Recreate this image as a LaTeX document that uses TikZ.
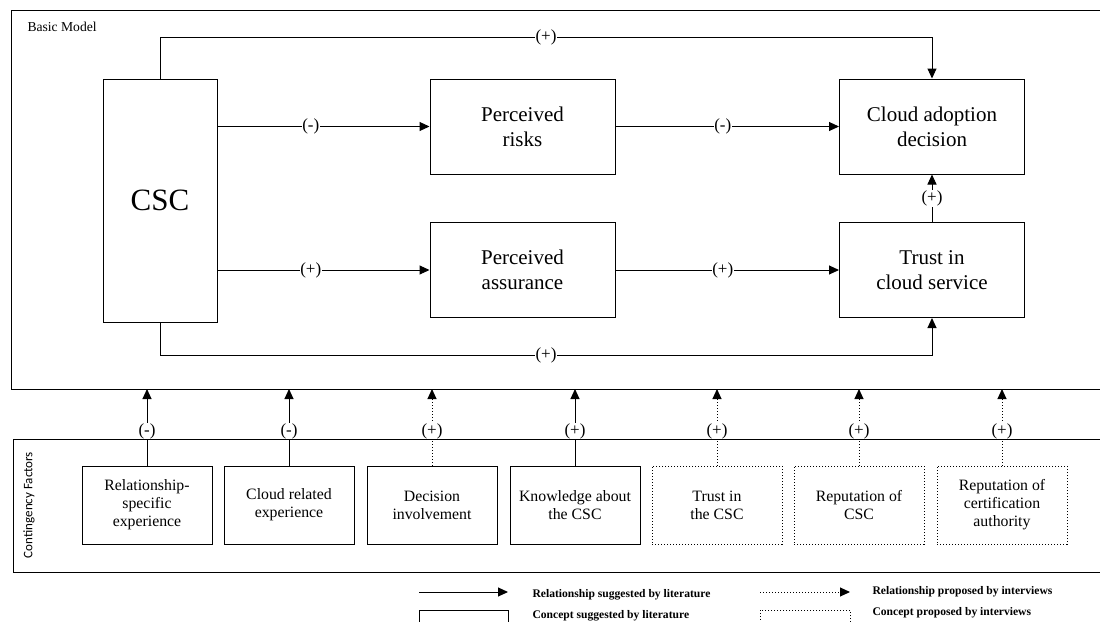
\documentclass[tikz,border=0pt]{standalone}
\usepackage{fontspec}
\setmainfont{Liberation Serif}
\newfontfamily\cfsans{Carlito}
\usetikzlibrary{arrows.meta}

\begin{document}
\begin{tikzpicture}[x=0.5pt, y=-0.5pt, line width=0.5pt,
        every node/.style = {align=center},
        box/.style = {draw, rectangle, inner sep=0pt},
        bigbox/.style = {box, minimum width=92.5pt, minimum height=47.5pt,
            font=\fontsize{10.5}{12.5}\selectfont},
        facbox/.style = {box, minimum width=65pt, minimum height=39pt,
            font=\fontsize{7.9}{9}\selectfont},
        newbox/.style = {facbox, densely dotted},
        arr/.style = {-{Triangle[length=5pt,width=4.5pt]}},
        newarr/.style = {arr, densely dotted},
        lbl/.style = {fill=white, inner sep=0.3pt, font=\fontsize{8.5}{9}\selectfont},
        legtext/.style = {anchor=west, inner sep=0pt, font=\fontsize{5.8}{7}\selectfont\bfseries}]
    \useasboundingbox (0,0) rectangle (1100,622);

    \draw (1100,10) -- (11,10) -- (11,389) -- (1100,389);
    \node[anchor=west, inner sep=0pt, font=\fontsize{6.8}{8}\selectfont] (bmtitle) at (27,27) {Basic Model};
    \draw (1100,439) -- (13,439) -- (13,572) -- (1100,572);
    \node[rotate=90, inner sep=0pt, font=\cfsans\fontsize{6.5}{8}\selectfont] (cftitle) at (29,505) {Contingency Factors};

    \coordinate (topy) at (0,37);
    \coordinate (boty) at (0,355);
    \coordinate (bmb) at (0,389);

    \node[box, minimum width=57pt, minimum height=121.5pt, font=\fontsize{15.5}{18}\selectfont] (csc) at (160,200.5) {CSC};
    \node[bigbox] (risks) at (522.5,126.5) {Perceived\\risks};
    \node[bigbox] (assur) at (522.5,270) {Perceived\\assurance};
    \node[bigbox] (adopt) at (932,126.5) {Cloud adoption\\decision};
    \node[bigbox] (trust) at (932,270) {Trust in\\cloud service};

    \draw[arr] (risks.west -| csc.east) -- node[lbl, pos=0.44] {(-)} (risks.west);
    \draw[arr] (risks.east) -- node[lbl, pos=0.48] {(-)} (adopt.west);
    \draw[arr] (assur.west -| csc.east) -- node[lbl, pos=0.44] {(+)} (assur.west);
    \draw[arr] (assur.east) -- node[lbl, pos=0.48] {(+)} (trust.west);
    \draw[arr] (trust.north) -- node[lbl] {(+)} (adopt.south);
    \draw[arr] (csc.north) -- (csc.north |- topy) -- node[lbl] {(+)} (adopt.north |- topy) -- (adopt.north);
    \draw[arr] (csc.south) -- (csc.south |- boty) -- node[lbl] {(+)} (trust.south |- boty) -- (trust.south);

    \node[facbox] (f1) at (147,505) {Relationship-\\specific\\experience};
    \node[facbox] (f2) at (289,505) {Cloud related\\experience};
    \node[facbox] (f3) at (432,505) {Decision\\involvement};
    \node[facbox] (f4) at (575,505) {Knowledge about\\the CSC};
    \node[newbox] (f5) at (717,505) {Trust in\\the CSC};
    \node[newbox] (f6) at (859,505) {Reputation of\\CSC};
    \node[newbox] (f7) at (1002,505) {Reputation of\\certification\\authority};

    \draw[arr] (f1.north) -- node[lbl, pos=0.45] {(-)} (f1.north |- bmb);
    \draw[arr] (f2.north) -- node[lbl, pos=0.45] {(-)} (f2.north |- bmb);
    \draw[newarr] (f3.north) -- node[lbl, pos=0.45] {(+)} (f3.north |- bmb);
    \draw[arr] (f4.north) -- node[lbl, pos=0.45] {(+)} (f4.north |- bmb);
    \draw[newarr] (f5.north) -- node[lbl, pos=0.45] {(+)} (f5.north |- bmb);
    \draw[newarr] (f6.north) -- node[lbl, pos=0.45] {(+)} (f6.north |- bmb);
    \draw[newarr] (f7.north) -- node[lbl, pos=0.45] {(+)} (f7.north |- bmb);

    \coordinate (litstart) at (419,592);
    \coordinate (litend) at (508,592);
    \coordinate (intstart) at (760,592);
    \coordinate (intend) at (850,592);
    \draw[arr] (litstart) -- (litend);
    \draw[newarr] (intstart) -- (intend);
    \node[box, minimum width=44.5pt, minimum height=15pt] (litbox) at (463.5,625) {};
    \node[box, densely dotted, minimum width=45pt, minimum height=15pt] (intbox) at (805,625) {};
    \node[legtext] (littext) at (532,595) {Relationship suggested by literature};
    \node[legtext] (litctext) at (532,616) {Concept suggested by literature};
    \node[legtext] (inttext) at (872,592) {Relationship proposed by interviews};
    \node[legtext] (intctext) at (872,613) {Concept proposed by interviews};
\end{tikzpicture}
\end{document}
